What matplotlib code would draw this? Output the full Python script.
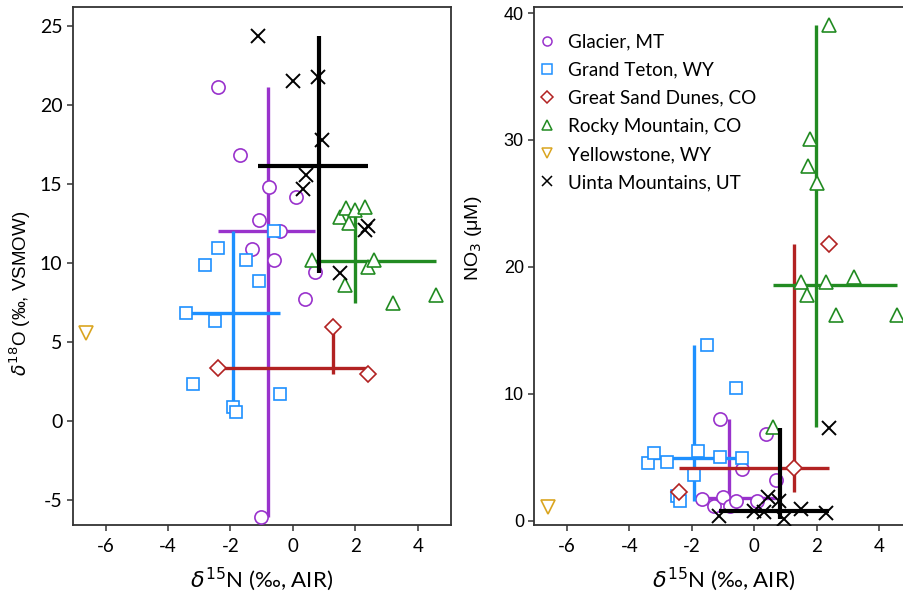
import numpy as np
import matplotlib
matplotlib.use("Agg")
import matplotlib.pyplot as plt
from matplotlib.lines import Line2D

plt.rcParams["axes.unicode_minus"] = False
plt.rcParams["mathtext.fontset"] = "dejavusans"

# ---- data: d15N (per mil, AIR), d18O (per mil, VSMOW), NO3 (uM) per sample ----
sites = ["Glacier, MT", "Grand Teton, WY", "Great Sand Dunes, CO",
         "Rocky Mountain, CO", "Yellowstone, WY", "Uinta Mountains, UT"]

glacier_n15 = [-2.40, -1.69, -1.30, -1.10, -1.01, -0.78, -0.60, -0.41, 0.09, 0.38, 0.70]
glacier_o18 = [21.18, 16.85, 10.91, 12.73, -6.09, 14.84, 10.19, 12.03, 14.20, 7.70, 9.45]
glacier_no3 = [np.nan, 1.66, 1.13, 8.03, 1.84, 1.18, 1.58, 4.08, 1.58, 6.84, 3.16]

teton_n15 = [-3.41, -3.21, -2.80, -2.48, -2.39, -1.92, -1.81, -1.51, -1.10, -0.60, -0.41]
teton_o18 = [6.85, 2.31, 9.87, 6.32, 10.93, 0.89, 0.57, 10.19, 8.86, 12.03, 1.69]
teton_no3 = [4.52, 5.34, 4.60, 1.90, 1.55, 3.60, 5.52, 13.81, 5.00, 10.47, 4.92]

dunes_n15 = [-2.40, 1.28, 2.40]
dunes_o18 = [3.32, 5.92, 2.96]
dunes_no3 = [2.29, 4.16, 21.78]

rocky_n15 = [0.60, 1.50, 1.68, 1.71, 1.80, 2.00, 2.30, 2.39, 2.61, 3.21, 4.58]
rocky_o18 = [10.19, 12.94, 8.60, 13.47, 12.52, 13.35, 13.57, 9.73, 10.19, 7.44, 7.97]
rocky_no3 = [7.37, 18.80, 17.76, 27.96, 30.10, 26.60, 18.80, 39.07, 16.18, 19.20, 16.18]

yellow_n15 = [-6.62]
yellow_o18 = [5.56]
yellow_no3 = [1.10]

uinta_n15 = [-1.13, -0.01, 0.31, 0.43, 0.79, 0.94, 1.50, 2.31, 2.39]
uinta_o18 = [24.35, 21.50, 14.67, 15.57, 21.77, 17.80, 9.35, 12.10, 12.35]
uinta_no3 = [0.39, 0.73, 0.71, 1.84, 1.58, 0.13, 0.92, 0.61, 7.29]

# site centre values (cross centres) for each panel
center_n15 = [-0.80, -1.92, 1.28, 1.99, -6.62, 0.83]
center_o18 = [12.03, 6.85, 3.32, 10.13, 5.56, 16.15]
center_no3 = [1.75, 4.92, 4.16, 18.60, 1.10, 0.79]

n15_all = [glacier_n15, teton_n15, dunes_n15, rocky_n15, yellow_n15, uinta_n15]
o18_all = [glacier_o18, teton_o18, dunes_o18, rocky_o18, yellow_o18, uinta_o18]
no3_all = [glacier_no3, teton_no3, dunes_no3, rocky_no3, yellow_no3, uinta_no3]

colors = ["#9932CC", "#1E90FF", "#B22222", "#228B22", "#DAA520", "#000000"]
markers = ["o", "s", "D", "^", "v", "x"]
msizes = [9.5, 8.5, 8.5, 10, 10, 10]

CAL = ["Lato", "DejaVu Sans"]
ARI = ["Liberation Sans", "DejaVu Sans"]

fig = plt.figure(figsize=(9.04, 5.99), dpi=100)
W, H = 904.0, 599.0
bottom = 1 - 525.0 / H
height = 517.7 / H
ax1 = fig.add_axes([72.7 / W, bottom, 378.0 / W, height])
ax2 = fig.add_axes([534.3 / W, bottom, 377.6 / W, height])


def draw_panel(ax, yvals, ycent):
    for i in range(len(sites)):
        x = np.asarray(n15_all[i], float)
        y = np.asarray(yvals[i], float)
        ok = ~np.isnan(y)
        x, y = x[ok], y[ok]
        c = colors[i]
        z = 2 + 2 * i
        lw = 3.0 if c == "#000000" else 2.4
        if len(x) > 1:
            ax.plot([x.min(), x.max()], [ycent[i], ycent[i]], color=c, lw=lw,
                    solid_capstyle="butt", zorder=z)
            ax.plot([center_n15[i], center_n15[i]], [y.min(), y.max()], color=c,
                    lw=lw, solid_capstyle="butt", zorder=z)
        if markers[i] == "x":
            ax.plot(x, y, ls="none", marker="x", ms=msizes[i], mew=1.4,
                    color=c, zorder=z + 1)
        else:
            ax.plot(x, y, ls="none", marker=markers[i], ms=msizes[i], mew=1.2,
                    mec=c, mfc="white", zorder=z + 1)


draw_panel(ax1, o18_all, center_o18)
draw_panel(ax2, no3_all, center_no3)

for ax in (ax1, ax2):
    ax.set_xlim(-7.05, 5.05)
    ax.set_xticks([-6, -4, -2, 0, 2, 4])
    for s in ax.spines.values():
        s.set_color("#333333")
        s.set_linewidth(1.3)
    ax.tick_params(direction="out", length=4, width=1.1, color="#333333",
                   top=False, right=False)
    ax.tick_params(axis="x", pad=5)
    for lab in ax.get_xticklabels():
        lab.set_family(CAL)
        lab.set_fontsize(13.5)
    ax.set_xlabel(r"$\delta^{15}$N (‰, AIR)", family=CAL, fontsize=16, labelpad=8)

ax1.set_ylim(-6.6, 26.2)
ax1.set_yticks([-5, 0, 5, 10, 15, 20, 25])
for lab in ax1.get_yticklabels():
    lab.set_family(CAL)
    lab.set_fontsize(14)
ax1.set_ylabel(r"$\delta^{18}$O (‰, VSMOW)", family=ARI, fontsize=13.5)
ax1.yaxis.set_label_coords(-0.104, 0.448)

ax2.set_ylim(-0.35, 40.45)
ax2.set_yticks([0, 10, 20, 30, 40])
for lab in ax2.get_yticklabels():
    lab.set_family(ARI)
    lab.set_fontsize(13)
ax2.set_ylabel(r"NO$_3$ (μM)", family=ARI, fontsize=14)
ax2.yaxis.set_label_coords(-0.134, 0.554)

handles = []
for i, name in enumerate(sites):
    if markers[i] == "x":
        h = Line2D([], [], ls="none", marker="x", ms=6.5, mew=1.1, color=colors[i])
    else:
        h = Line2D([], [], ls="none", marker=markers[i], ms=6.5, mew=1.1,
                   mec=colors[i], mfc="none")
    handles.append(h)
ax2.legend(handles, sites, loc="upper left", bbox_to_anchor=(-0.021, 0.968),
           frameon=False, borderpad=0, handlelength=1.2, handletextpad=0.5,
           labelspacing=0.59, prop={"family": CAL, "size": 13.6})

fig.savefig("out.png", dpi=100)
